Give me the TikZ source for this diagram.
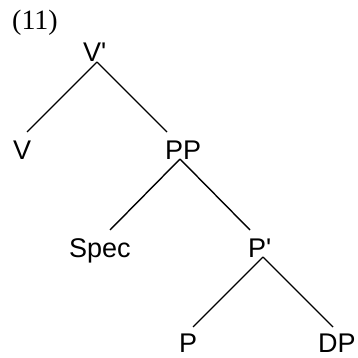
\documentclass[tikz,border=0pt]{standalone}
\usepackage{fontspec}
\setmainfont{Liberation Serif}
\newfontfamily\treefont{Liberation Sans}
\begin{document}
\begin{tikzpicture}[x=1pt,y=-1pt,
    label/.style={inner sep=0pt,anchor=base west,font=\treefont\fontsize{27}{27}\selectfont},
    branch/.style={line width=1.4pt}]
  \useasboundingbox (0,0) rectangle (358,358);
  % example number
  \node[inner sep=0pt,anchor=base west,font=\fontsize{28}{28}\selectfont] (num) at (12,30) {(11)};
  % tree labels
  \node[label] (vbar) at (83,62)  {V'};
  \node[label] (v)    at (13,159) {V};
  \node[label] (pp)   at (165,159) {PP};
  \node[label] (spec) at (69,257) {Spec};
  \node[label] (pbar) at (248,257) {P'};
  \node[label] (p)    at (179,352) {P};
  \node[label] (dp)   at (318,352) {DP};
  % branches
  \draw[branch] ([shift={(14,0)}]vbar.base west) -- ([shift={(14,-27)}]v.base west);
  \draw[branch] ([shift={(14,0)}]vbar.base west) -- ([shift={(2,-27)}]pp.base west);
  \draw[branch] ([shift={(15,0)}]pp.base west) -- ([shift={(41,-27)}]spec.base west);
  \draw[branch] ([shift={(15,0)}]pp.base west) -- ([shift={(2,-27)}]pbar.base west);
  \draw[branch] ([shift={(15,0)}]pbar.base west) -- ([shift={(14,-25)}]p.base west);
  \draw[branch] ([shift={(15,0)}]pbar.base west) -- ([shift={(15,-25)}]dp.base west);
\end{tikzpicture}
\end{document}
